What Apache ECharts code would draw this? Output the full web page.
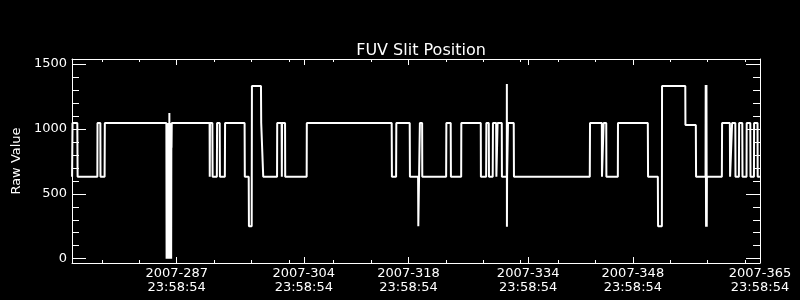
<!DOCTYPE html>
<html>
<head>
<meta charset="utf-8">
<script src="https://cdn.jsdelivr.net/npm/echarts@6/dist/echarts.min.js"></script>
<style>
html,body{margin:0;padding:0;background:#000;}
#chart{width:800px;height:300px;}
</style>
</head>
<body>
<div id="chart"></div>
<script>
// Time as decimal day-of-year 2007
const times = [
274.01,274.07,274.71,274.75,277.39,277.41,277.79,277.81,278.36,278.39,
286.62,286.65,286.69,286.72,286.76,286.79,286.83,286.86,286.90,286.93,286.97,287.00,287.02,287.05,
287.09,287.12,287.16,287.19,287.23,287.26,287.29,287.31,287.34,
292.40,292.42,292.45,292.77,292.80,293.37,293.40,293.75,293.78,294.44,294.47,
297.08,297.11,297.63,297.66,298.03,298.06,299.27,299.30,299.54,299.57,
301.42,301.44,302.03,302.06,302.09,302.49,302.51,305.38,305.40,
316.75,316.78,317.34,317.37,319.16,319.19,320.28,320.31,320.50,320.52,320.82,320.84,
324.03,324.06,324.64,324.67,326.04,326.06,
328.66,328.68,329.38,329.41,329.73,329.76,330.26,330.29,330.72,330.75,330.88,330.91,
331.47,331.49,332.14,332.15,332.16,332.18,332.27,332.30,333.07,333.10,
343.24,343.27,344.85,344.87,345.06,345.09,345.44,345.46,
346.99,347.01,351.00,351.03,352.34,352.37,352.88,352.90,356.01,356.03,357.42,357.45,
358.72,358.74,358.79,358.84,358.88,358.90,
360.90,360.93,361.97,362.00,362.24,362.27,362.70,362.72,363.18,363.21,363.63,363.66,
364.20,364.22,364.70,364.73,365.19,365.21,365.67,365.69,365.99
];
const rawValues = [
632,1045,1045,632,632,1045,1045,632,632,1045,
1045,0,1045,0,1045,0,1045,0,1045,0,1045,0,1122,0,
1045,0,1045,0,1045,0,1045,855,1045,
1045,632,1045,1045,632,632,1045,1045,632,632,1045,
1045,632,632,250,250,1330,1330,1045,1045,632,
632,1045,1045,632,1045,1045,632,632,1045,
1045,632,632,1045,1045,632,632,250,250,1045,1045,632,
632,1045,1045,632,632,1045,
1045,632,632,1045,1045,632,632,1045,1045,632,632,1045,
1045,632,632,1346,247,632,632,1045,1045,632,
632,1045,1045,632,632,1045,1045,632,
632,1045,1045,632,632,250,250,1330,1330,1030,1030,632,
632,1338,247,1338,247,632,
632,1045,1045,632,632,1045,1045,632,632,1045,1045,632,
632,1045,1045,632,632,1045,1045,632,632
];
const xMajorTicks = [287.9993, 304.9993, 318.9993, 334.9993, 348.9993, 365.9993];
const xMajorLabels = ['2007-287\n23:58:54','2007-304\n23:58:54','2007-318\n23:58:54','2007-334\n23:58:54','2007-348\n23:58:54','2007-365\n23:58:54'];
const xMinorTicks = [278,283,288,293,298,303,309,314,319,324,329,334,339,344,349,354,359,364];
const yMajorTicks = [0,500,1000,1500];
const yMajorLabels = ['0','500','1000','1500'];
const yMinorTicks = [100,200,300,400,600,700,800,900,1100,1200,1300,1400];

const X_MIN = 274.0, X_MAX = 366.0, Y_MIN = -33, Y_MAX = 1538;
const white = '#ffffff';
const fontFam = 'DejaVu Sans';

function nearestLabel(v, ticks, labels) {
  let best = 0, d = 1e9;
  ticks.forEach((t, i) => { if (Math.abs(t - v) < d) { d = Math.abs(t - v); best = i; } });
  return labels[best];
}

function xAx(grid, pos, ticks, len, labels, showLine) {
  return {
    type: 'value', gridIndex: grid, position: pos, min: X_MIN, max: X_MAX,
    axisLine: {show: showLine, onZero: false, lineStyle: {color: white, width: 1}},
    axisTick: {show: true, inside: true, length: len, customValues: ticks, lineStyle: {color: white, width: 1}},
    axisLabel: labels ? {
      show: true, customValues: xMajorTicks, color: white, fontFamily: fontFam, fontSize: 13,
      lineHeight: 14, margin: 4,
      formatter: function (v) { return nearestLabel(v, xMajorTicks, xMajorLabels); }
    } : {show: false},
    splitLine: {show: false}
  };
}
function yAx(grid, pos, ticks, len, labels, showLine, name) {
  return {
    type: 'value', gridIndex: grid, position: pos, min: Y_MIN, max: Y_MAX,
    name: name || '', nameLocation: 'middle', nameGap: 44,
    nameTextStyle: {color: white, fontFamily: fontFam, fontSize: 13},
    axisLine: {show: showLine, onZero: false, lineStyle: {color: white, width: 1}},
    axisTick: {show: true, inside: true, length: len, customValues: ticks, lineStyle: {color: white, width: 1}},
    axisLabel: labels ? {
      show: true, customValues: yMajorTicks, color: white, fontFamily: fontFam, fontSize: 13, margin: 5,
      formatter: function (v) { return nearestLabel(v, yMajorTicks, yMajorLabels); }
    } : {show: false},
    splitLine: {show: false}
  };
}

const gridRect = {left: 72, right: 40, top: 59, bottom: 37};
const chart = echarts.init(document.getElementById('chart'), null, {renderer: 'canvas'});
chart.setOption({
  backgroundColor: '#000000',
  animation: false,
  title: {
    text: 'FUV Slit Position', left: 416, top: 38, textAlign: 'center',
    textStyle: {color: white, fontFamily: fontFam, fontSize: 16, fontWeight: 'normal'}
  },
  grid: [Object.assign({}, gridRect), Object.assign({}, gridRect)],
  xAxis: [
    xAx(0, 'bottom', xMajorTicks, 6, true, true),
    xAx(0, 'top', xMajorTicks, 6, false, true),
    xAx(1, 'bottom', xMinorTicks, 3, false, false),
    xAx(1, 'top', xMinorTicks, 3, false, false)
  ],
  yAxis: [
    yAx(0, 'left', yMajorTicks, 14, true, true, 'Raw Value'),
    yAx(0, 'right', yMajorTicks, 14, false, true),
    yAx(1, 'left', yMinorTicks, 7, false, false),
    yAx(1, 'right', yMinorTicks, 7, false, false)
  ],
  series: [{
    type: 'line', xAxisIndex: 0, yAxisIndex: 0,
    data: times.map((t, i) => [t, rawValues[i]]),
    showSymbol: false, symbol: 'none',
    lineStyle: {color: white, width: 2},
    clip: true
  }]
});
</script>
</body>
</html>
